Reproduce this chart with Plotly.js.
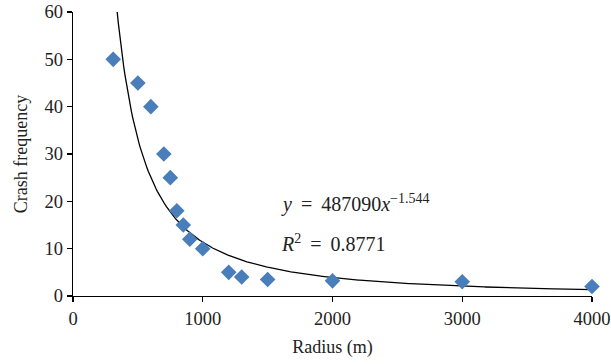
<!DOCTYPE html>
<html>
<head>
<meta charset="utf-8">
<script src="https://cdn.plot.ly/plotly-3.0.1.min.js"></script>
<style>html,body{margin:0;padding:0;background:#fff;}#chart{width:611px;height:364px;}</style>
</head>
<body>
<div id="chart"></div>
<script>
// Observed data
const radius = [310, 500, 600, 700, 750, 800, 850, 900, 1000, 1200, 1300, 1500, 2000, 3000, 4000];
const crashFrequency = [50, 45, 40, 30, 25, 18, 15, 12, 10, 5, 4, 3.5, 3.2, 3, 2];
// Power trendline shown on the chart: y = a * x^b
const trendA = 487090;
const trendB = -1.544;
const xTicks = [0, 1000, 2000, 3000, 4000];
const yTicks = [0, 10, 20, 30, 40, 50, 60];

const trendX = [];
const trendY = [];
for (let x = 300; x <= 4000; x += 10) {
  trendX.push(x);
  trendY.push(trendA * Math.pow(x, trendB));
}

const font = "'Liberation Serif', 'DejaVu Serif', serif";
const txt = '#222222';

const data = [
  {
    x: trendX, y: trendY, type: 'scatter', mode: 'lines',
    line: {color: '#000000', width: 1.3}, hoverinfo: 'skip', showlegend: false
  },
  {
    x: radius, y: crashFrequency, type: 'scatter', mode: 'markers',
    marker: {symbol: 'diamond', size: 12, color: '#4a7ebb'}, showlegend: false, cliponaxis: false
  }
];

const layout = {
  width: 611, height: 364,
  margin: {l: 73, r: 19, t: 12, b: 68},
  paper_bgcolor: '#ffffff', plot_bgcolor: '#ffffff',
  font: {family: font, size: 18, color: txt},
  xaxis: {
    range: [0, 4000], tickvals: xTicks, ticktext: xTicks.map(String),
    showgrid: false, zeroline: false, showline: true, linecolor: '#000', linewidth: 1.3,
    ticks: 'outside', ticklen: 5, tickcolor: '#000', tickwidth: 1.3,
    tickfont: {family: font, size: 18.5, color: txt},
    title: {text: 'Radius (m)', font: {family: font, size: 18, color: txt}, standoff: 13}
  },
  yaxis: {
    range: [0, 60], tickvals: yTicks, ticktext: yTicks.map(String),
    showgrid: false, zeroline: false, showline: true, linecolor: '#000', linewidth: 1.3,
    ticks: 'outside', ticklen: 5, tickcolor: '#000', tickwidth: 1.3,
    tickfont: {family: font, size: 18.5, color: txt},
    title: {text: 'Crash frequency', font: {family: font, size: 18, color: txt}, standoff: 12}
  },
  annotations: [
    {
      x: 1590, y: 19.6, xref: 'x', yref: 'y', xanchor: 'left', yanchor: 'middle', showarrow: false,
      text: '<i>y</i>\u2009 = \u2009487090<i>x</i><sup>\u22121.544</sup>',
      font: {family: font, size: 20, color: txt}
    },
    {
      x: 1590, y: 11.1, xref: 'x', yref: 'y', xanchor: 'left', yanchor: 'middle', showarrow: false,
      text: '<i>R</i><sup>2</sup>\u2009 = \u20090.8771',
      font: {family: font, size: 20, color: txt}
    }
  ]
};

Plotly.newPlot('chart', data, layout, {displayModeBar: false, staticPlot: true});
</script>
</body>
</html>
